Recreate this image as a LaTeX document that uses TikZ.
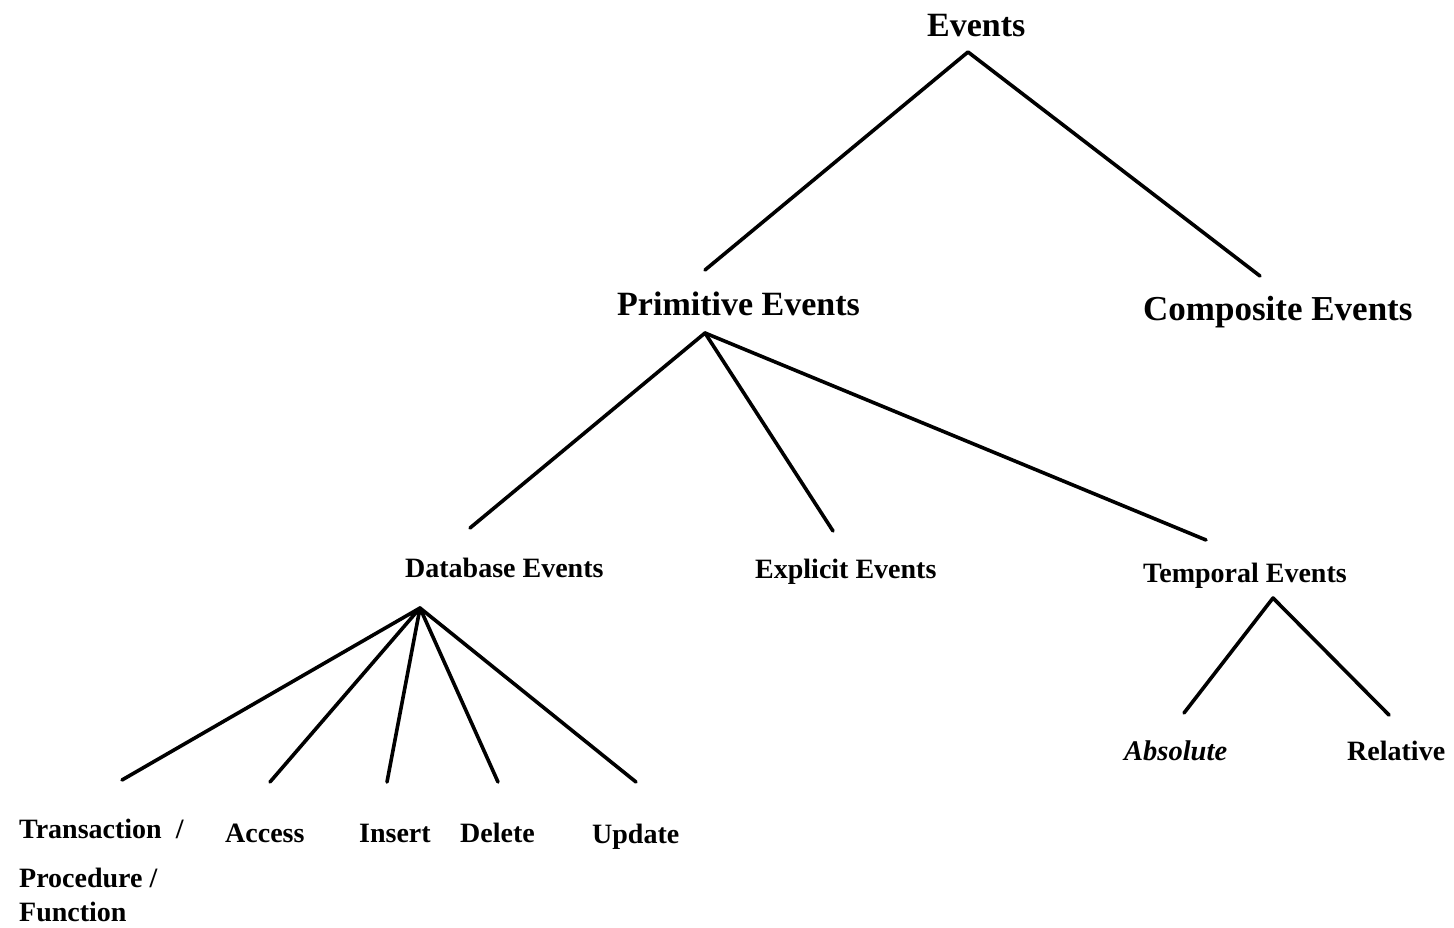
\documentclass[tikz,border=0pt]{standalone}
\usepackage{fontspec}
\setmainfont{Liberation Serif}
\begin{document}
\begin{tikzpicture}[x=1pt,y=-1pt,
  big/.style={anchor=base west,inner sep=0pt,font=\bfseries\fontsize{34}{40}\selectfont},
  small/.style={anchor=base west,inner sep=0pt,font=\bfseries\fontsize{28}{34}\selectfont},
  edge/.style={line width=3.6pt,line cap=round,line join=round}]
\useasboundingbox (0,0) rectangle (1454,928);
% texts
\node[big] (ev) at (927,37) {Events};
\node[big] (prim) at (617,315) {Primitive Events};
\node[big,font=\bfseries\fontsize{35}{40}\selectfont] (comp) at (1143,320) {Composite Events};
\node[small] (db) at (405,577) {Database Events};
\node[small] (ex) at (755,578) {Explicit Events};
\node[small] (tmp) at (1143,582) {Temporal Events};
\node[small,font=\bfseries\itshape\fontsize{28.5}{34}\selectfont] (abs) at (1124,760) {Absolute};
\node[small] (rel) at (1347,760) {Relative};
\node[small,align=left] (tr) at (19,921) {Transaction\hspace{14pt}/\\[15pt]Procedure /\\Function};
\node[small] (acc) at (225,842) {Access};
\node[small] (ins) at (359,842) {Insert};
\node[small] (del) at (460,842) {Delete};
\node[small] (upd) at (592,843) {Update};
% connector end points
\coordinate (evA) at (968,52);
\coordinate (primT) at (705,270);
\coordinate (compT) at (1260,276);
\coordinate (primA) at (705,333);
\coordinate (dbT) at (470,528);
\coordinate (exT) at (833,531);
\coordinate (tmpT) at (1206,540);
\coordinate (dbA) at (420,608);
\coordinate (trT) at (122,780);
\coordinate (accT) at (270,782);
\coordinate (insT) at (387,782);
\coordinate (delT) at (498,782);
\coordinate (updT) at (636,782);
\coordinate (tmpA) at (1273,598);
\coordinate (absT) at (1184,713);
\coordinate (relT) at (1389,715);
% connectors
\draw[edge] (primT) -- (evA) -- (compT);
\draw[edge] (dbT) -- (primA) -- (exT);
\draw[edge] (primA) -- (tmpT);
\draw[edge] (trT) -- (dbA) -- (accT);
\draw[edge] (insT) -- (dbA) -- (delT);
\draw[edge] (dbA) -- (updT);
\draw[edge] (absT) -- (tmpA) -- (relT);
\end{tikzpicture}
\end{document}
